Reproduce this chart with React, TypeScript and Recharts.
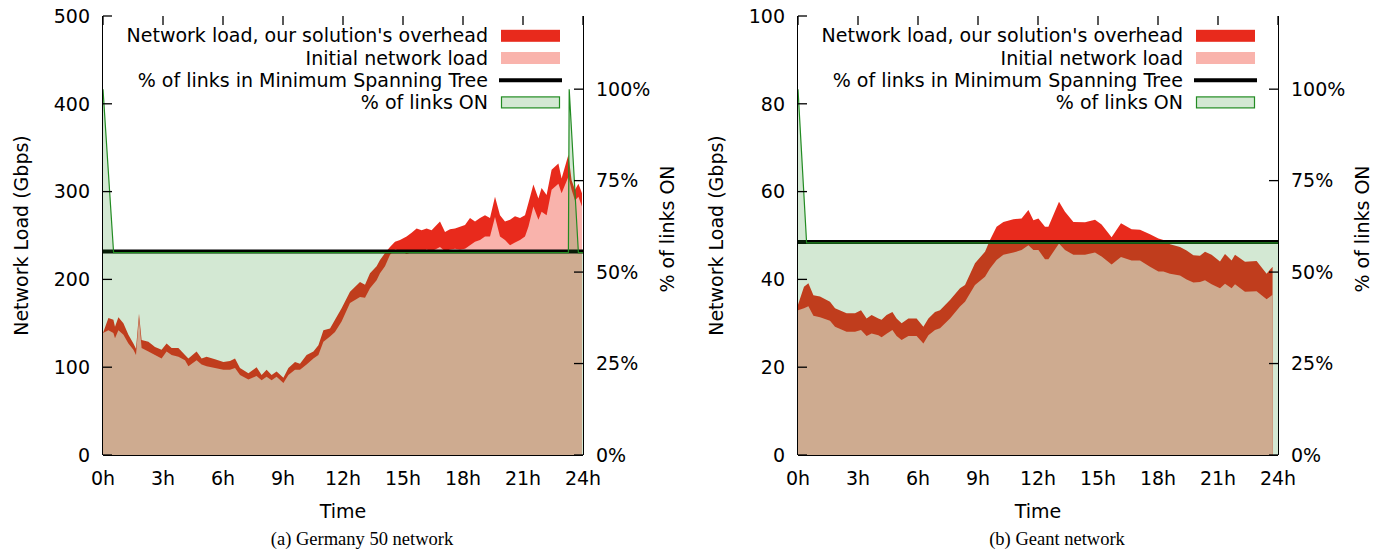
import React from 'react';
import { ComposedChart, Area, XAxis, YAxis, ReferenceLine, Legend, Label } from 'recharts';

// ---------- shared ticks / labels ----------
const hourTicks = [0, 3, 6, 9, 12, 15, 18, 21, 24];
const pctTicks = [0, 25, 50, 75, 100];
const legendLabels = [
  "Network load, our solution's overhead",
  'Initial network load',
  '% of links in Minimum Spanning Tree',
  '% of links ON',
];
const yLeftTitle = 'Network Load (Gbps)';
const yRightTitle = '% of links ON';
const xTitle = 'Time';

// ---------- (a) Germany 50 ----------
const germanyCaption = '(a) Germany 50 network';
const germanyLoadTicks = [0, 100, 200, 300, 400, 500];
const germanyTime = [
  0, 0.27, 0.52, 0.6, 0.77, 1.02, 1.27, 1.52, 1.65, 1.8,
  1.93, 2.27, 2.6, 2.93, 3.18, 3.43, 3.77, 4.1, 4.27, 4.68,
  4.93, 5.18, 5.6, 6.02, 6.35, 6.6, 6.85, 7.27, 7.68, 7.93,
  8.18, 8.43, 8.68, 9.02, 9.27, 9.6, 9.85, 10.18, 10.52, 10.77,
  11.02, 11.35, 11.6, 11.93, 12.35, 12.85, 13.1, 13.35, 13.68, 13.85,
  14.1, 14.35, 14.6, 14.85, 15.18, 15.43, 15.68, 15.93, 16.18, 16.43,
  16.68, 16.85, 17.1, 17.35, 17.6, 17.85, 18.1, 18.35, 18.6, 18.85,
  19.1, 19.35, 19.6, 19.85, 20.1, 20.35, 20.6, 20.85, 21.1, 21.27,
  21.52, 21.77, 21.93, 22.18, 22.43, 22.77, 22.93, 23.27, 23.43, 23.6,
  23.77, 23.95,
];
const germanyOverhead = [
  139, 156, 154, 146, 157, 150, 137, 127, 121, 161,
  131, 129, 123, 120, 127, 122, 122, 114, 110, 118,
  110, 112, 109, 106, 107, 110, 99, 93, 100, 91,
  97, 91, 95, 88, 99, 106, 104, 114, 118, 125,
  142, 144, 154, 167, 186, 197, 194, 207, 215, 222,
  230, 237, 243, 245, 249, 253, 258, 256, 258, 256,
  262, 266, 254, 257, 258, 260, 262, 270, 266, 270,
  273, 270, 294, 273, 266, 268, 272, 270, 273, 287,
  308, 292, 304, 296, 325, 332, 315, 342, 313, 302,
  309, 298,
];
const germanyInitial = [
  139, 142, 139, 133, 142, 137, 127, 120, 114, 156,
  122, 118, 114, 110, 118, 114, 112, 108, 101, 108,
  103, 101, 99, 97, 97, 99, 91, 86, 90, 85,
  89, 85, 89, 82, 91, 97, 97, 103, 110, 114,
  129, 135, 140, 152, 173, 180, 179, 190, 199, 207,
  215, 228, 234, 233, 229, 231, 233, 230, 234, 232,
  235, 237, 232, 234, 235, 234, 235, 239, 243, 245,
  249, 249, 271, 249, 245, 239, 242, 245, 249, 260,
  283, 268, 277, 273, 302, 309, 298, 317, 302, 290,
  294, 283,
];
const germanyLinkTime = [0, 0.53, 23.27, 23.31, 23.77, 24];
const germanyLinksOn = [100, 55.3, 55.3, 100, 55.3, 55.3];
const germanyMst = 55.6;

// ---------- (b) Geant ----------
const geantCaption = '(b) Geant network';
const geantLoadTicks = [0, 20, 40, 60, 80, 100];
const geantTime = [
  0, 0.3, 0.52, 0.77, 1.1, 1.6, 1.85, 2.43, 2.85, 3.15,
  3.43, 3.68, 4.02, 4.18, 4.43, 4.72, 4.93, 5.18, 5.52, 5.93,
  6.27, 6.52, 6.85, 7.1, 7.6, 8.1, 8.35, 8.85, 9.35, 9.6,
  9.93, 10.27, 10.77, 11.18, 11.52, 11.77, 12.02, 12.35, 12.52, 13.05,
  13.35, 13.77, 14.35, 14.85, 15.18, 15.68, 16.15, 16.68, 17.1, 17.6,
  18.02, 18.27, 18.6, 19.1, 19.43, 19.77, 20.1, 20.35, 20.68, 21.1,
  21.35, 21.68, 21.85, 22.35, 22.93, 23.43, 23.73,
];
const geantOverhead = [
  34.2, 38.3, 39.1, 36.4, 36.1, 34.9, 33.4, 32.3, 32.3, 33.0,
  31.1, 31.9, 31.1, 30.8, 31.9, 32.6, 31.1, 30.0, 31.1, 31.1,
  29.2, 31.1, 32.6, 33.0, 35.3, 38.0, 38.7, 43.7, 46.3, 49.0,
  52.0, 53.1, 53.7, 53.9, 55.8, 53.5, 53.9, 52.0, 52.0, 57.7,
  55.4, 53.1, 53.0, 53.6, 52.5, 49.6, 52.8, 51.4, 51.3, 50.3,
  49.3, 49.0, 48.0, 47.4, 46.6, 45.5, 45.4, 46.3, 45.6, 44.1,
  45.8, 44.3, 45.6, 44.0, 44.2, 41.3, 42.9,
];
const geantInitial = [
  33.0, 33.4, 33.9, 31.7, 31.4, 30.6, 29.2, 28.1, 28.1, 28.5,
  27.1, 27.7, 27.3, 26.8, 27.6, 28.5, 27.1, 26.2, 27.1, 27.1,
  25.4, 27.3, 28.5, 28.9, 31.1, 33.8, 34.9, 38.7, 40.6, 42.5,
  44.4, 45.6, 46.1, 46.7, 47.8, 46.7, 46.7, 44.6, 44.6, 48.2,
  46.7, 45.6, 45.6, 46.1, 45.2, 43.4, 45.1, 44.3, 44.3, 42.9,
  41.8, 41.8, 41.3, 40.9, 40.0, 39.3, 39.4, 39.8, 38.9, 38.0,
  39.0, 38.0, 38.9, 37.2, 37.3, 35.5, 36.5,
];
const geantLinkTime = [0, 0.43, 24];
const geantLinksOn = [100, 58.0, 58.0];
const geantMst = 58.2;

// ---------- styling ----------
const RED = '#e82a1c';
const PINK = '#f9b3ac';
const GREEN = '#228b22';
const SANS = 'DejaVu Sans';
const FS = 19;
const PL = 103; // plot left (panel coords)
const PR = 583; // plot right
const PT = 16; // plot top
const PB = 455; // plot bottom
const H = 555;
const MARK = 9;
const MW = 1.3; // mark thickness

type Row = { t: number; total?: number; initial?: number; links?: number };

function buildRows(
  loadTime: number[],
  overhead: number[],
  initial: number[],
  linkTime: number[],
  links: number[]
): Row[] {
  const map = new Map<number, Row>();
  loadTime.forEach((t, i) => {
    const r = map.get(t) || { t };
    r.total = overhead[i];
    r.initial = initial[i];
    map.set(t, r);
  });
  linkTime.forEach((t, i) => {
    const r = map.get(t) || { t };
    r.links = links[i];
    map.set(t, r);
  });
  return Array.from(map.values()).sort((a, b) => a.t - b.t);
}

const textStyle: React.CSSProperties = { fontFamily: SANS, fontSize: FS, fill: '#000' };

const XTick = (p: any) => (
  <g>
    <rect x={p.x - MW / 2} y={PT} width={MW} height={MARK} fill="#000" />
    <text x={p.x} y={PB + 30} textAnchor="middle" style={textStyle}>
      {`${p.payload.value}h`}
    </text>
  </g>
);
const LeftTick = (p: any) => (
  <g>
    <rect x={PL} y={p.y - MW / 2} width={MARK} height={MW} fill="#000" />
    <text x={PL - 13} y={p.y + 6.8} textAnchor="end" style={textStyle}>
      {p.payload.value}
    </text>
  </g>
);
const RightTick = (p: any) => (
  <g>
    <rect x={PR - MARK} y={p.y - MW / 2} width={MARK} height={MW} fill="#000" />
    <text x={PR + 13} y={p.y + 6.8} textAnchor="start" style={textStyle}>
      {`${p.payload.value}%`}
    </text>
  </g>
);

function LegendBox({ width }: { width: number }) {
  const textRight = PR - 95;
  const sx0 = PR - 82;
  const sx1 = PR - 23;
  return (
    <svg width={width} height={120} style={{ display: 'block', overflow: 'visible' }}>
      {legendLabels.map((lab, i) => {
        const cy = 35.8 + 22.2 * i;
        let sw: React.ReactNode = null;
        if (i === 0) sw = <rect x={sx0} y={cy - 6} width={sx1 - sx0} height={12} fill={RED} />;
        if (i === 1) sw = <rect x={sx0} y={cy - 6} width={sx1 - sx0} height={12} fill={PINK} />;
        if (i === 2) sw = <line x1={sx0 - 2} x2={sx1 + 2} y1={cy} y2={cy} stroke="#000" strokeWidth={4} />;
        if (i === 3)
          sw = (
            <rect x={sx0 + 0.5} y={cy - 5.5} width={sx1 - sx0 - 1} height={11} fill="#d3e8d3" stroke={GREEN} strokeWidth={1.2} />
          );
        return (
          <g key={lab}>
            <text x={textRight} y={cy + 6.6} textAnchor="end" style={textStyle}>
              {lab}
            </text>
            {sw}
          </g>
        );
      })}
    </svg>
  );
}

type PanelProps = {
  width: number;
  rows: Row[];
  loadTicks: number[];
  mst: number;
  caption: string;
};

function Panel({ width, rows, loadTicks, mst, caption }: PanelProps) {
  const loadMax = loadTicks[loadTicks.length - 1];
  return (
    <ComposedChart width={width} height={H} data={rows} margin={{ top: PT, right: 0, bottom: 0, left: 0 }}>
      <XAxis
        xAxisId="x"
        dataKey="t"
        type="number"
        domain={[0, 24]}
        ticks={hourTicks}
        allowDataOverflow
        interval={0}
        height={H - PB}
        tickLine={false}
        axisLine={{ stroke: '#000', strokeWidth: 1, transform: 'translate(0,0.5)' }}
        tick={XTick}
        zIndex={50}
      >
        <Label
          content={() => (
            <g>
              <text x={(PL + PR) / 2} y={518} textAnchor="middle" style={textStyle}>
                {xTitle}
              </text>
              <text
                x={(PL + PR) / 2 + 19}
                y={545}
                textAnchor="middle"
                style={{ fontFamily: 'Liberation Serif', fontSize: 18.5, fill: '#000' }}
              >
                {caption}
              </text>
            </g>
          )}
        />
      </XAxis>
      <XAxis
        xAxisId="top"
        orientation="top"
        dataKey="t"
        type="number"
        domain={[0, 24]}
        ticks={hourTicks}
        allowDataOverflow
        interval={0}
        height={0}
        tickLine={false}
        axisLine={{ stroke: '#000', strokeWidth: 1 }}
        tick={false}
        zIndex={50}
      />
      <YAxis
        yAxisId="load"
        type="number"
        domain={[0, loadMax]}
        ticks={loadTicks}
        allowDataOverflow
        interval={0}
        width={PL}
        tickLine={false}
        axisLine={{ stroke: '#000', strokeWidth: 1, transform: 'translate(-0.5,0)' }}
        tick={LeftTick}
        zIndex={50}
      >
        <Label
          content={() => (
            <text
              x={20.5}
              y={(PT + PB) / 2}
              textAnchor="middle"
              dominantBaseline="central"
              transform={`rotate(-90 20.5 ${(PT + PB) / 2})`}
              style={textStyle}
            >
              {yLeftTitle}
            </text>
          )}
        />
      </YAxis>
      <YAxis
        yAxisId="pct"
        orientation="right"
        type="number"
        domain={[0, 120]}
        ticks={pctTicks}
        allowDataOverflow
        interval={0}
        width={width - PR}
        tickLine={false}
        axisLine={{ stroke: '#000', strokeWidth: 1, transform: 'translate(0.5,0)' }}
        tick={RightTick}
        zIndex={50}
      >
        <Label
          content={() => (
            <text
              x={PR + 84}
              y={229}
              textAnchor="middle"
              dominantBaseline="central"
              transform={`rotate(-90 ${PR + 84} 229)`}
              style={textStyle}
            >
              {yRightTitle}
            </text>
          )}
        />
      </YAxis>

      <Area
        xAxisId="x"
        yAxisId="load"
        type="linear"
        dataKey="total"
        name={legendLabels[0]}
        fill={RED}
        fillOpacity={1}
        stroke="none"
        connectNulls
        dot={false}
        activeDot={false}
        isAnimationActive={false}
        zIndex={100}
      />
      <Area
        xAxisId="x"
        yAxisId="load"
        type="linear"
        dataKey="initial"
        name={legendLabels[1]}
        fill={PINK}
        fillOpacity={1}
        stroke="none"
        connectNulls
        dot={false}
        activeDot={false}
        isAnimationActive={false}
        zIndex={101}
      />
      <ReferenceLine
        xAxisId="x"
        yAxisId="pct"
        y={mst}
        stroke="#000"
        strokeWidth={4}
        ifOverflow="visible"
        zIndex={110}
      />
      <Area
        xAxisId="top"
        yAxisId="pct"
        type="linear"
        dataKey="links"
        name={legendLabels[3]}
        fill={GREEN}
        fillOpacity={0.2}
        stroke={GREEN}
        strokeWidth={1.2}
        connectNulls
        dot={false}
        activeDot={false}
        isAnimationActive={false}
        zIndex={120}
      />
      <Legend
        layout="vertical"
        align="center"
        verticalAlign="middle"
        wrapperStyle={{ left: 0, top: 0, width, height: 120, margin: 0, padding: 0 }}
        content={() => <LegendBox width={width} />}
      />
    </ComposedChart>
  );
}

const germanyRows = buildRows(germanyTime, germanyOverhead, germanyInitial, germanyLinkTime, germanyLinksOn);
const geantRows = buildRows(geantTime, geantOverhead, geantInitial, geantLinkTime, geantLinksOn);

export default function App() {
  return (
    <div
      style={{
        position: 'absolute',
        left: 0,
        top: 0,
        width: 1384,
        height: H,
        background: '#fff',
        display: 'flex',
        flexDirection: 'row',
      }}
    >
      <Panel width={695} rows={germanyRows} loadTicks={germanyLoadTicks} mst={germanyMst} caption={germanyCaption} />
      <Panel width={689} rows={geantRows} loadTicks={geantLoadTicks} mst={geantMst} caption={geantCaption} />
    </div>
  );
}
